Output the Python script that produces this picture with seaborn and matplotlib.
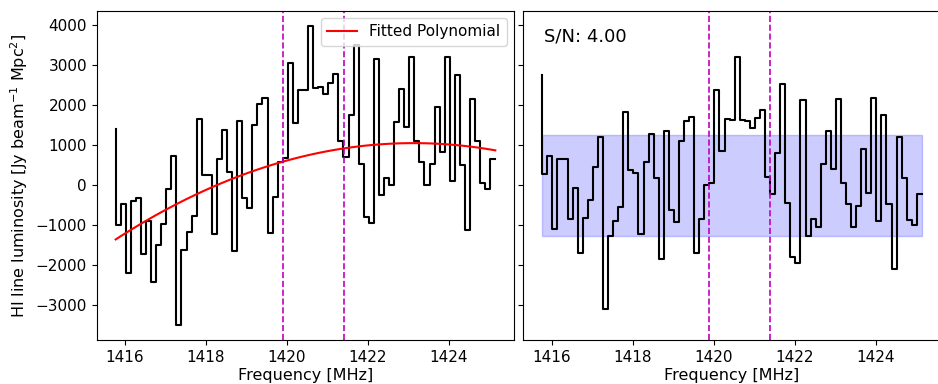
import numpy as np
import pandas as pd
import seaborn as sns
import matplotlib
matplotlib.use("Agg")
import matplotlib.pyplot as plt

# channel frequencies [MHz]
freq = [1415.771, 1415.896, 1416.021, 1416.146, 1416.271, 1416.396, 1416.521, 1416.646,
        1416.771, 1416.896, 1417.021, 1417.146, 1417.271, 1417.396, 1417.521, 1417.646,
        1417.771, 1417.896, 1418.021, 1418.146, 1418.271, 1418.396, 1418.521, 1418.646,
        1418.771, 1418.896, 1419.021, 1419.146, 1419.271, 1419.396, 1419.521, 1419.646,
        1419.771, 1419.896, 1420.021, 1420.146, 1420.271, 1420.396, 1420.521, 1420.646,
        1420.771, 1420.896, 1421.021, 1421.146, 1421.271, 1421.396, 1421.521, 1421.646,
        1421.771, 1421.896, 1422.021, 1422.146, 1422.271, 1422.396, 1422.521, 1422.646,
        1422.771, 1422.896, 1423.021, 1423.146, 1423.271, 1423.396, 1423.521, 1423.646,
        1423.771, 1423.896, 1424.021, 1424.146, 1424.271, 1424.396, 1424.521, 1424.646,
        1424.771, 1424.896, 1425.021, 1425.146]

# HI line luminosity per channel [Jy beam^-1 Mpc^2]
luminosity = [1400, -1000, -475, -2200, -400, -320, -1730, -890,
              -2430, -1490, -970, -100, 720, -3500, -1610, -1180,
              -760, 1660, 260, 250, -1210, 640, 1370, 330,
              -1640, 1600, -320, -570, 1500, 2030, 2180, -1190,
              -290, 580, 670, 3040, 1540, 2370, 2370, 3980,
              2420, 2440, 2280, 2540, 2770, 1110, 700, 1760,
              3500, 525, -800, -950, 3140, -250, 190, 0,
              1580, 2390, 1440, 3200, 1100, 570, 0, 520,
              1940, 820, 3190, 100, 2750, 510, -1120, 2150,
              1100, 50, -100, 640]

# signal window [MHz]
window = [1419.9, 1421.4]
# noise level and signal-to-noise
noise_rms = 1260
sn_value = 4.00

f = np.array(freq)
lum = np.array(luminosity)
mask = (f < window[0]) | (f > window[1])
coeffs = np.polyfit(f[mask], lum[mask], 2)
fit = np.polyval(coeffs, f)
resid = lum - fit

df = pd.DataFrame({"freq": f, "lum": lum, "fit": fit, "resid": resid})

fig = plt.figure(figsize=(9.38, 3.84), dpi=100)
ax1 = fig.add_axes([0.1031, 0.1138, 0.4452, 0.8583])
ax2 = fig.add_axes([0.5579, 0.1138, 0.4452, 0.8583], sharey=ax1)

sns.lineplot(data=df, x="freq", y="lum", drawstyle="steps-pre", color="black",
             linewidth=1.5, ax=ax1)
sns.lineplot(data=df, x="freq", y="fit", color="red", linewidth=1.5,
             label="Fitted Polynomial", ax=ax1)
for w in window:
    ax1.axvline(w, color="m", linestyle="--", linewidth=1.2)
ax1.legend(loc="upper right", fontsize=11)
ax1.set_xlabel("Frequency [MHz]", fontsize=11.5, labelpad=2)
ax1.set_ylabel(r"HI line luminosity [Jy beam$^{-1}$ Mpc$^2$]", fontsize=11.5)

sns.lineplot(data=df, x="freq", y="resid", drawstyle="steps-pre", color="black",
             linewidth=1.5, ax=ax2)
ax2.fill_between(f, -noise_rms, noise_rms, color="blue", alpha=0.2)
for w in window:
    ax2.axvline(w, color="m", linestyle="--", linewidth=1.2)
ax2.text(0.05, 0.95, f"S/N: {sn_value:.2f}", transform=ax2.transAxes,
         va="top", ha="left", fontsize=13)
ax2.set_xlabel("Frequency [MHz]", fontsize=11.5, labelpad=2)
ax2.set_ylabel("")
plt.setp(ax2.get_yticklabels(), visible=False)

for ax in (ax1, ax2):
    ax.tick_params(labelsize=11)
    ax.set_xticks([1416, 1418, 1420, 1422, 1424])

ax1.set_yticks([-3000, -2000, -1000, 0, 1000, 2000, 3000, 4000])

fig.savefig("out.png", dpi=100)
